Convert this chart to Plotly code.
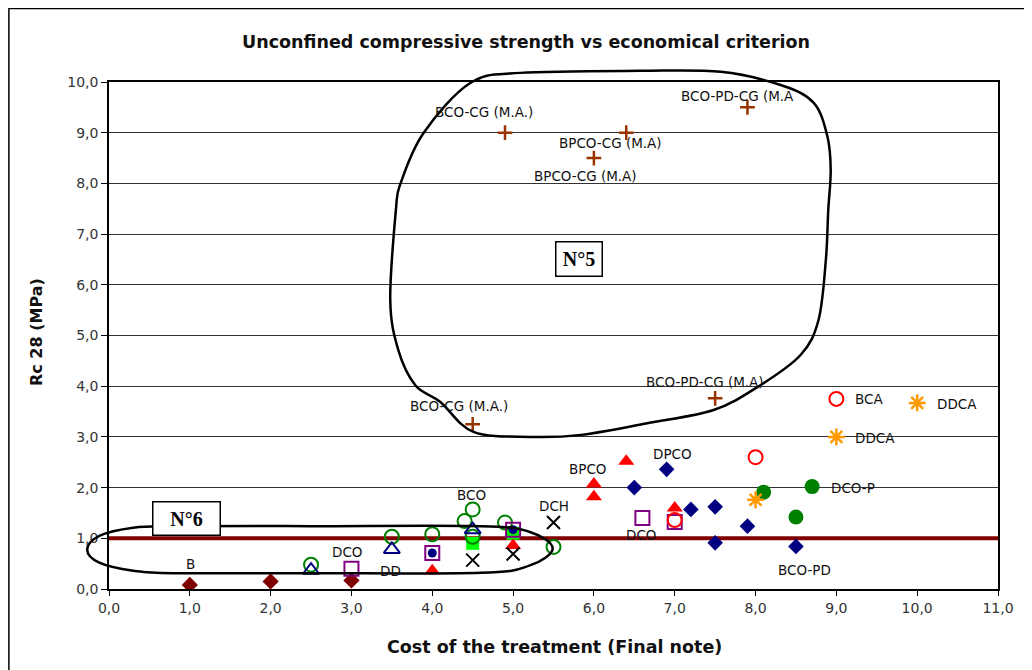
import plotly.graph_objects as go

# ---------------- data ----------------
x_ticks = [0, 1, 2, 3, 4, 5, 6, 7, 8, 9, 10, 11]
x_tick_labels = ["0,0", "1,0", "2,0", "3,0", "4,0", "5,0", "6,0", "7,0", "8,0", "9,0", "10,0", "11,0"]
y_ticks = [0, 1, 2, 3, 4, 5, 6, 7, 8, 9, 10]
y_tick_labels = ["0,0", "1,0", "2,0", "3,0", "4,0", "5,0", "6,0", "7,0", "8,0", "9,0", "10,0"]

threshold_x = [0, 11]
threshold_y = [1.0, 1.0]

b_x = [1.0, 2.0, 3.0]
b_y = [0.08, 0.15, 0.17]

lime_x = [4.5, 5.0]
lime_y = [0.90, 1.10]

green_open_x = [2.5, 3.5, 4.0, 4.4, 4.5, 4.5, 4.9, 5.5]
green_open_y = [0.48, 1.03, 1.08, 1.34, 1.57, 1.03, 1.31, 0.83]

navy_tri_x = [2.5, 3.5, 4.5]
navy_tri_y = [0.37, 0.78, 1.17]

purple_sq_x = [3.0, 4.0, 5.0, 6.6, 7.0]
purple_sq_y = [0.40, 0.71, 1.17, 1.40, 1.32]

navy_dot_x = [4.0, 5.0]
navy_dot_y = [0.71, 1.17]

red_tri_x = [4.0, 5.0, 6.0, 6.0, 6.4, 7.0]
red_tri_y = [0.36, 0.86, 2.07, 1.82, 2.52, 1.60]

black_x_x = [4.5, 5.0, 5.5]
black_x_y = [0.57, 0.69, 1.31]

navy_dia_x = [6.5, 6.9, 7.2, 7.5, 7.5, 7.9, 8.5]
navy_dia_y = [2.00, 2.36, 1.57, 1.62, 0.91, 1.24, 0.84]

red_open_x = [7.0, 8.0, 9.0]
red_open_y = [1.36, 2.60, 3.75]

green_fill_x = [8.1, 8.5, 8.7]
green_fill_y = [1.91, 1.42, 2.02]

orange_x = [8.0, 9.0, 10.0]
orange_y = [1.76, 3.00, 3.67]

ma_x = [4.5, 4.9, 6.0, 6.4, 7.5, 7.9]
ma_y = [3.25, 9.00, 8.50, 9.00, 3.76, 9.50]

# point labels: (text, x, y, anchor)
point_labels = [
    ("B", 1.01, 0.50, "center"),
    ("DCO", 2.95, 0.73, "center"),
    ("DD", 3.48, 0.36, "center"),
    ("BCO", 4.49, 1.86, "center"),
    ("DCH", 5.51, 1.63, "center"),
    ("BPCO", 5.92, 2.37, "center"),
    ("DPCO", 6.97, 2.66, "center"),
    ("DCO", 6.58, 1.06, "center"),
    ("BCO-PD", 8.61, 0.37, "center"),
    ("BCA", 9.21, 3.74, "left"),
    ("DDCA", 9.21, 2.98, "left"),
    ("DDCA", 10.22, 3.65, "left"),
    ("DCO-P", 8.91, 2.00, "left"),
    ("BCO-CG (M.A.)", 4.64, 9.41, "center"),
    ("BPCO-CG (M.A)", 6.21, 8.80, "center"),
    ("BPCO-CG (M.A)", 5.90, 8.14, "center"),
    ("BCO-PD-CG (M.A", 7.78, 9.72, "center"),
    ("BCO-CG (M.A.)", 4.33, 3.61, "center"),
    ("BCO-PD-CG (M.A)", 7.38, 4.08, "center"),
]

# hand-drawn loops (data coordinates)
loop5 = [(6.58, 10.22), (7.57, 10.20), (8.31, 9.94), (8.72, 9.59), (8.89, 8.92), (8.93, 8.26),
         (8.90, 7.48), (8.87, 6.49), (8.78, 5.31), (8.56, 4.62), (8.06, 4.02), (7.48, 3.53),
         (6.66, 3.27), (5.84, 3.04), (5.22, 3.00), (4.51, 3.10), (4.10, 3.69), (3.79, 4.02),
         (3.58, 4.71), (3.48, 5.70), (3.55, 7.48), (3.61, 8.01), (3.89, 8.99), (4.47, 9.98),
         (5.09, 10.18)]
loop6 = [(-0.27, 0.78), (-0.12, 1.05), (0.30, 1.21), (0.80, 1.24), (2.50, 1.24), (4.60, 1.24),
         (5.20, 1.13), (5.49, 0.80), (5.20, 0.46), (4.60, 0.32), (2.50, 0.31), (0.80, 0.31),
         (0.30, 0.36), (-0.12, 0.52)]

XMAX, YMAX = 11.0, 10.0
FONT = "DejaVu Sans"

# figure placed inside the page's 8px body margin
W, H = 1024, 662
ML, MR, MT, MB = 101, 34, 74, 81
PW, PH = W - ML - MR, H - MT - MB


def to_paper(p):
    return (p[0] / XMAX, p[1] / YMAX)


def closed_spline(points):
    pts = [to_paper(p) for p in points]
    n = len(pts)
    d = "M %.5f,%.5f" % pts[0]
    for i in range(n):
        p0, p1, p2, p3 = pts[i - 1], pts[i], pts[(i + 1) % n], pts[(i + 2) % n]
        c1 = (p1[0] + (p2[0] - p0[0]) / 6, p1[1] + (p2[1] - p0[1]) / 6)
        c2 = (p2[0] - (p3[0] - p1[0]) / 6, p2[1] - (p3[1] - p1[1]) / 6)
        d += " C %.5f,%.5f %.5f,%.5f %.5f,%.5f" % (c1 + c2 + p2)
    return d + " Z"


def px_to_paper(px, py):
    # page pixel -> paper coords (page offset 8px)
    return ((px - 8 - ML) / PW, (H - MB - (py - 8)) / PH)


fig = go.Figure()

fig.add_trace(go.Scatter(x=threshold_x, y=threshold_y, mode="lines",
                         line=dict(color="#800000", width=4), hoverinfo="skip"))


def add_markers(x, y, symbol, size, color, lw=0, lcolor=None, fill=None):
    fig.add_trace(go.Scatter(
        x=x, y=y, mode="markers",
        marker=dict(symbol=symbol, size=size, color=fill if fill else color,
                    line=dict(width=lw, color=lcolor if lcolor else color)),
        hoverinfo="skip"))


add_markers(b_x, b_y, "diamond", 12.5, "#800000")
add_markers(lime_x, lime_y, "square", 13, "#00FF00")
add_markers(green_open_x, green_open_y, "circle-open", 14, "#008000", lw=2)
add_markers(navy_tri_x, navy_tri_y, "triangle-up-open", 14, "#000080", lw=2)
add_markers(purple_sq_x, purple_sq_y, "square-open", 14, "#800080", lw=2)
add_markers(navy_dot_x, navy_dot_y, "circle", 9, "#000080")
add_markers(red_tri_x, red_tri_y, "triangle-up", 14, "#FF0000")
add_markers(black_x_x, black_x_y, "x-thin-open", 13, "#000000", lw=2)
add_markers(navy_dia_x, navy_dia_y, "diamond", 12, "#000080")
add_markers(red_open_x, red_open_y, "circle-open", 14, "#FF0000", lw=2)
add_markers(green_fill_x, green_fill_y, "circle", 15, "#008000")
add_markers(orange_x, orange_y, "asterisk-open", 14, "#FF9900", lw=2.5)
add_markers(ma_x, ma_y, "cross-thin-open", 10.5, "#993300", lw=2.5)

annotations = []
for text, lx, ly, anchor in point_labels:
    annotations.append(dict(x=lx, y=ly, xref="x", yref="y", text=text, showarrow=False,
                            xanchor=anchor, yanchor="middle",
                            font=dict(family=FONT, size=13.5, color="#111111")))

# loop boxes
annotations.append(dict(x=5.82, y=6.51, xref="x", yref="y", text="<b>N°5</b>", showarrow=False,
                        font=dict(family="Liberation Serif", size=20, color="#000000"),
                        bgcolor="#FFFFFF", bordercolor="#000000", borderwidth=1.5,
                        borderpad=1, width=43, height=31))
annotations.append(dict(x=0.96, y=1.40, xref="x", yref="y", text="<b>N°6</b>", showarrow=False,
                        font=dict(family="Liberation Serif", size=20, color="#000000"),
                        bgcolor="#FFFFFF", bordercolor="#000000", borderwidth=1.5,
                        borderpad=1, width=64, height=30))

# axis titles
xt = px_to_paper(554, 647)
annotations.append(dict(x=xt[0], y=xt[1], xref="paper", yref="paper",
                        text="<b>Cost of the treatment (Final note)</b>", showarrow=False,
                        xanchor="center", yanchor="middle",
                        font=dict(family=FONT, size=17.5, color="#111111")))
yt = px_to_paper(36, 332)
annotations.append(dict(x=yt[0], y=yt[1], xref="paper", yref="paper",
                        text="<b>Rc 28 (MPa)</b>", showarrow=False, textangle=-90,
                        xanchor="center", yanchor="middle",
                        font=dict(family=FONT, size=16, color="#111111")))

b0 = px_to_paper(6, 700)
b1 = px_to_paper(1045, 8.5)
shapes = [
    dict(type="path", path=closed_spline(loop5), xref="paper", yref="paper",
         line=dict(color="#000000", width=2.5), layer="above"),
    dict(type="path", path=closed_spline(loop6), xref="paper", yref="paper",
         line=dict(color="#000000", width=2.5), layer="above"),
    dict(type="rect", xref="paper", yref="paper", x0=-ML / PW + 0.001, x1=b1[0], y0=b0[1], y1=b1[1],
         line=dict(color="#000000", width=1.5), layer="above"),
]

fig.update_layout(
    width=W, height=H,
    margin=dict(l=ML, r=MR, t=MT, b=MB),
    paper_bgcolor="#FFFFFF", plot_bgcolor="#FFFFFF",
    showlegend=False, hovermode=False,
    title=dict(text="<b>Unconfined compressive strength vs economical criterion</b>",
               x=(526 - 8) / W, xref="container", xanchor="center",
               y=1 - (42 - 8) / H, yref="container", yanchor="middle",
               font=dict(family=FONT, size=17.5, color="#111111")),
    xaxis=dict(range=[0, XMAX], tickvals=x_ticks, ticktext=x_tick_labels,
               showgrid=False, zeroline=False, showline=True, linecolor="#000000",
               linewidth=1.5, mirror=True, ticks="outside", ticklen=5, tickwidth=1,
               tickcolor="#000000",
               tickfont=dict(family=FONT, size=14, color="#333333")),
    yaxis=dict(range=[0, YMAX], tickvals=y_ticks, ticktext=y_tick_labels,
               showgrid=True, gridcolor="#333333", gridwidth=1, zeroline=False,
               showline=True, linecolor="#000000", linewidth=1.5, mirror=True,
               ticks="outside", ticklen=6, tickwidth=1, tickcolor="#000000",
               tickfont=dict(family=FONT, size=14, color="#333333")),
    annotations=annotations,
    shapes=shapes,
)

fig.write_html("out.html")
